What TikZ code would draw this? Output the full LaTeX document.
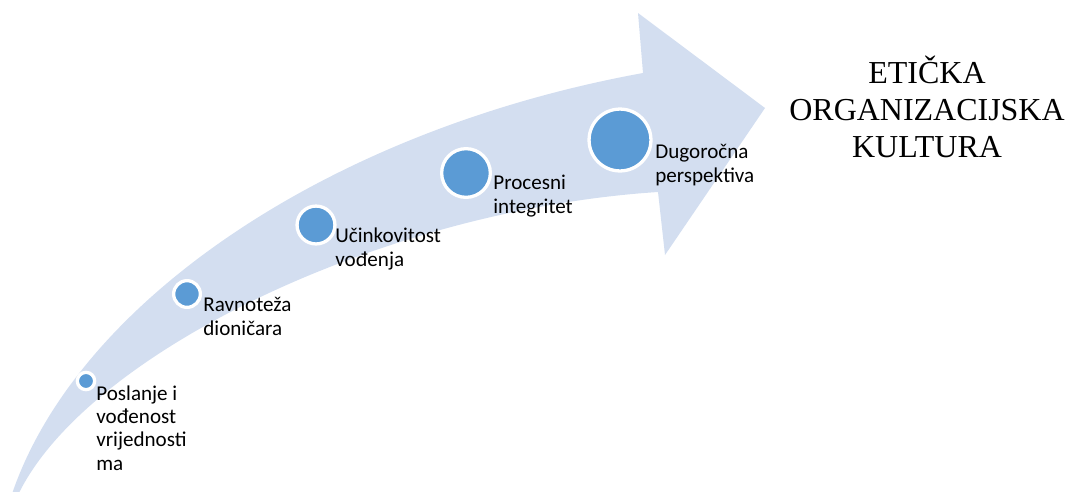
\documentclass[tikz,border=0pt]{standalone}
\usepackage{fontspec}
\setmainfont{Carlito}
\newfontfamily\titlefont{Liberation Serif}
\definecolor{bandblue}{HTML}{D3DEF0}
\definecolor{dotblue}{HTML}{5B9BD5}
\begin{document}
\begin{tikzpicture}[x=0.02cm,y=-0.02cm,
  dot/.style={circle,fill=dotblue,draw=white,line width=0.066cm,inner sep=0pt},
  lbl/.style={anchor=base west,align=left,inner sep=0pt,text=black,
    font=\fontsize{12}{13.2}\selectfont},
  ttl/.style={anchor=base,align=center,inner sep=0pt,text=black,
    font=\titlefont\fontsize{18.2}{21}\selectfont}]
\useasboundingbox (0,0) rectangle (1067,491);
\fill[bandblue] (10,502) -- (13,491) .. controls (80,300) and (330,130) .. (643,73)
  -- (638,13) -- (765,108) -- (665,255) -- (658,192)
  .. controls (380,210) and (85,355) .. (18,495) -- cycle;
\node[dot,minimum size=17.3*0.02cm] (c1) at (86,381) {};
\node[dot,minimum size=26.7*0.02cm] (c2) at (187,294) {};
\node[dot,minimum size=37.9*0.02cm] (c3) at (316,225) {};
\node[dot,minimum size=48.7*0.02cm] (c4) at (466,173) {};
\node[dot,minimum size=61.9*0.02cm] (c5) at (620,140) {};
\node[lbl] (t1) at (96,470) {Poslanje i\\vođenost\\vrijednosti\\ma};
\node[lbl] (t2) at (203,335) {Ravnoteža\\dioničara};
\node[lbl] (t3) at (335,266) {Učinkovitost\\vođenja};
\node[lbl] (t4) at (493,213) {Procesni\\integritet};
\node[lbl] (t5) at (655,182) {Dugoročna\\perspektiva};
\node[ttl] (title) at (927,157) {ETIČKA\\ORGANIZACIJSKA\\KULTURA};
\end{tikzpicture}
\end{document}
